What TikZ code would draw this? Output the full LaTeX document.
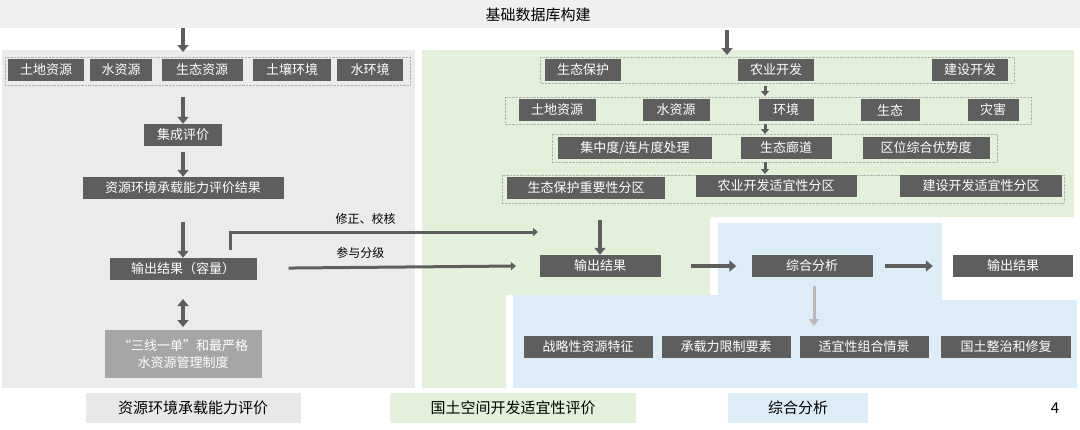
\documentclass[tikz,border=0pt]{standalone}
\usepackage{fontspec}
\setmainfont{Noto Sans CJK SC}
\usetikzlibrary{positioning,arrows.meta}

\definecolor{boxgray}{HTML}{5E5E5E}
\definecolor{panelgray}{HTML}{EBEBEB}
\definecolor{panelgreen}{HTML}{E3F0DA}
\definecolor{panelblue}{HTML}{DCEDF7}

\begin{document}
\begin{tikzpicture}
[
x=1pt, y=-1pt,
cell-a/.style={fill=boxgray, text=white, font=\fontsize{13}{14}\selectfont, inner sep=0pt, minimum height=22pt},
cell-b/.style={fill=gray!70, text=white, font=\fontsize{13}{17}\selectfont, align=center, inner sep=0pt},
frame-a/.style={draw=gray!60, densely dotted, fill=none, inner sep=0pt},
flow-a/.style={-{Triangle[length=7pt,width=11pt]}, line width=4pt, draw=boxgray},
flow-b/.style={-{Triangle[length=5pt,width=8pt]}, line width=3pt, draw=boxgray},
text-a/.style={font=\fontsize{12}{14}\selectfont},
leg-a/.style={minimum height=30pt, font=\fontsize{15}{17}\selectfont}
]
\useasboundingbox (0,0) rectangle (1080,429);

% panels
\fill [gray!12] (0,0) rectangle (1080,28);
\fill [panelgray] (2,50) rectangle (415,388);
\fill [panelgreen] (422,50) -- (1074,50) -- (1074,217) -- (710,217) -- (710,295)
  -- (506,295) -- (506,388) -- (422,388) -- cycle;
\fill [panelblue] (513,295) -- (718,295) -- (718,223) -- (942,223) -- (942,300)
  -- (1077,300) -- (1077,388) -- (513,388) -- cycle;

\node (title) [font=\fontsize{15}{17}\selectfont] at (538,15) {基础数据库构建};
\coordinate (in-l) at (183,28);
\coordinate (in-r) at (727,30);

% left column
\draw [frame-a] (5,57) rectangle (410,85);
\node (l-land)  [cell-a, minimum width=76pt] at (46,70)  {土地资源};
\node (l-water) [cell-a, minimum width=62pt] at (121,70) {水资源};
\node (l-eco)   [cell-a, minimum width=81pt] at (202,70) {生态资源};
\node (l-soil)  [cell-a, minimum width=78pt] at (292,70) {土壤环境};
\node (l-wenv)  [cell-a, minimum width=66pt] at (370,70) {水环境};
\node (l-int)   [cell-a, minimum width=78pt] at (183,135) {集成评价};
\node (l-res)   [cell-a, minimum width=201pt] at (183,188) {资源环境承载能力评价结果};
\node (l-out)   [cell-a, minimum width=147pt] at (183,269) {输出结果（容量）};
\node (l-rule)  [cell-b, minimum width=157pt, minimum height=48pt] at (183,354)
  {“三线一单”和最严格\\水资源管理制度};
\coordinate (l-row-b) at (183,97);
\coordinate (l-int-b) at (183,152);
\coordinate (l-res-t) at (183,222);
\draw [flow-a] (in-l) -- (183,52);
\draw [flow-a] (l-row-b) -- (l-int);
\draw [flow-a] (l-int-b) -- (l-res);
\draw [flow-a] (l-res-t) -- (l-out);
\draw [{Triangle[length=7pt,width=11pt]}-{Triangle[length=7pt,width=11pt]}, line width=4pt, draw=boxgray]
  (183,299) -- (183,327);

% right column
\draw [frame-a] (540,57) rectangle (1014,83);
\node (r-prot)  [cell-a, minimum width=76pt] at (583,70) {生态保护};
\node (r-agri)  [cell-a, minimum width=76pt] at (776,70) {农业开发};
\node (r-build) [cell-a, minimum width=76pt] at (970,70) {建设开发};
\draw [frame-a] (505,97) rectangle (1031,124);
\node (r-land)  [cell-a, minimum width=77pt] at (557,110) {土地资源};
\node (r-water) [cell-a, minimum width=67pt] at (676,110) {水资源};
\node (r-env)   [cell-a, minimum width=55pt] at (786,110) {环境};
\node (r-eco)   [cell-a, minimum width=59pt] at (890,110) {生态};
\node (r-dis)   [cell-a, minimum width=51pt] at (993,110) {灾害};
\draw [frame-a] (552,134) rectangle (997,162);
\node (r-conc)  [cell-a, minimum width=154pt] at (635,148) {集中度/连片度处理};
\node (r-corr)  [cell-a, minimum width=91pt]  at (786,148) {生态廊道};
\node (r-loc)   [cell-a, minimum width=127pt] at (926,148) {区位综合优势度};
\draw [frame-a] (502,175) rectangle (1064,203);
\node (r-zone1) [cell-a, minimum width=158pt] at (586,188) {生态保护重要性分区};
\node (r-zone2) [cell-a, minimum width=161pt] at (776,186) {农业开发适宜性分区};
\node (r-zone3) [cell-a, minimum width=162pt] at (981,186) {建设开发适宜性分区};
\node (r-out)   [cell-a, minimum width=121pt] at (600,266) {输出结果};
\node (b-ana)   [cell-a, minimum width=121pt] at (812,266) {综合分析};
\node (b-out)   [cell-a, minimum width=120pt] at (1013,266) {输出结果};
\node (b-f1) [cell-a, minimum width=129pt] at (588,347) {战略性资源特征};
\node (b-f2) [cell-a, minimum width=129pt] at (726,347) {承载力限制要素};
\node (b-f3) [cell-a, minimum width=129pt] at (864,347) {适宜性组合情景};
\node (b-f4) [cell-a, minimum width=130pt] at (1006,347) {国土整治和修复};
\coordinate (r-zone-b) at (600,220);
\draw [flow-a] (in-r) -- (727,55);
\draw [flow-b] (765,86) -- (765,96);
\draw [flow-b] (765,124) -- (765,134);
\draw [flow-b] (765,162) -- (765,174);
\draw [flow-a] (r-zone-b) -- (r-out);
\draw [flow-a, shorten <=30pt, shorten >=15pt] (r-out) -- (b-ana);
\draw [flow-a, shorten <=12pt, shorten >=20pt] (b-ana) -- (b-out);
\draw [-{Triangle[length=7pt,width=10pt]}, line width=3pt, draw=gray!55] (814,286) -- (814,326);

% links between columns
\coordinate (fix-end) at (538,232);
\coordinate (grade-end) at (516,266);
\draw [flow-b] (230,250) |- (fix-end) node [text-a, pos=0.72, above=3pt] {修正、校核};
\draw [flow-b, shorten <=32pt] (l-out) -- (grade-end) node [text-a, pos=0.4, above=4pt] {参与分级};

% legend
\node (leg-1) [leg-a, fill=gray!18, minimum width=215pt] at (193,408) {资源环境承载能力评价};
\node (leg-2) [leg-a, fill=panelgreen, minimum width=246pt] at (513,408) {国土空间开发适宜性评价};
\node (leg-3) [leg-a, fill=panelblue, minimum width=140pt] at (798,408) {综合分析};
\node (page) [font=\fontsize{15}{17}\selectfont] at (1055,408) {4};
\end{tikzpicture}
\end{document}
